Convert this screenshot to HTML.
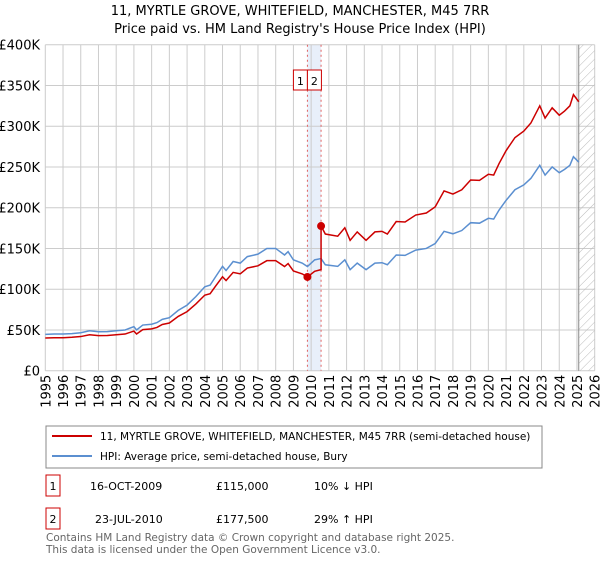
<!DOCTYPE html>
<html><head><meta charset="utf-8"><style>
body{margin:0;background:#fff;font-family:"Liberation Sans","DejaVu Sans",sans-serif;}
svg text{font-family:"DejaVu Sans","Liberation Sans",sans-serif;}
</style></head><body>
<svg id="chart" width="600" height="560" viewBox="0 0 600 560" xmlns="http://www.w3.org/2000/svg">
<defs><pattern id="hatch" width="6" height="6" patternUnits="userSpaceOnUse" patternTransform="rotate(45)"><line x1="0" y1="0" x2="0" y2="6" stroke="#bbb" stroke-width="1"/></pattern></defs>
<text x="300" y="15" text-anchor="middle" font-size="13">11, MYRTLE GROVE, WHITEFIELD, MANCHESTER, M45 7RR</text>
<text x="300" y="33" text-anchor="middle" font-size="13">Price paid vs. HM Land Registry's House Price Index (HPI)</text>
<g id="grid"></g><g id="marks"></g><g id="axes"></g>
<rect x="46" y="426" width="496" height="42" fill="#fff" stroke="#888"/>
<line x1="52" y1="436" x2="92" y2="436" stroke="#cc0000" stroke-width="2"/>
<text x="100" y="440" font-size="10.5">11, MYRTLE GROVE, WHITEFIELD, MANCHESTER, M45 7RR (semi-detached house)</text>
<line x1="52" y1="456" x2="92" y2="456" stroke="#5b8fd0" stroke-width="2"/>
<text x="100" y="460" font-size="10.5">HPI: Average price, semi-detached house, Bury</text>
<g font-size="11">
<rect x="46" y="475" width="14" height="21" fill="#fff" stroke="#cc0000"/><text x="53" y="490" text-anchor="middle">1</text>
<text x="90" y="490">16-OCT-2009</text><text x="216" y="490">£115,000</text><text x="314" y="490">10% ↓ HPI</text></g>
<g font-size="11">
<rect x="46" y="508" width="14" height="21" fill="#fff" stroke="#cc0000"/><text x="53" y="523" text-anchor="middle">2</text>
<text x="95" y="523">23-JUL-2010</text><text x="216" y="523">£177,500</text><text x="314" y="523">29% ↑ HPI</text></g>
<text x="46" y="541" font-size="10.5" fill="#666">Contains HM Land Registry data © Crown copyright and database right 2025.</text>
<text x="46" y="553" font-size="10.5" fill="#666">This data is licensed under the Open Government Licence v3.0.</text>
</svg>
<script>
const hpiDates=[1995.0,1995.5,1996.0,1996.5,1997.0,1997.5,1998.0,1998.5,1999.0,1999.5,2000.0,2000.15,2000.5,2001.0,2001.3,2001.6,2002.0,2002.5,2003.0,2003.5,2004.0,2004.3,2004.6,2005.0,2005.2,2005.6,2006.0,2006.4,2007.0,2007.5,2008.0,2008.5,2008.7,2009.0,2009.5,2009.79,2010.2,2010.56,2010.8,2011.5,2011.9,2012.2,2012.6,2013.1,2013.6,2014.0,2014.3,2014.8,2015.3,2015.9,2016.5,2017.0,2017.5,2018.0,2018.5,2019.0,2019.5,2020.0,2020.3,2020.6,2021.0,2021.5,2022.0,2022.4,2022.9,2023.2,2023.6,2024.0,2024.3,2024.6,2024.8,2025.1];
const hpiValues=[44.6,45,45,45.5,46.6,49,47.8,48,49,50,54,50,56,57,59,63,65,74,80.5,91,103,105,115,128,123,134,132,140,143,150,150,142,146,136,132,127.8,136,137.6,130,128,136,124,132,124,132,132.5,130,142,141.5,148,150,156,171,168,172,181.6,181,187,186,197,209,222,228,236,252,240,250,243,247,252,262.6,256];
const priceDates=[1995.0,1995.5,1996.0,1996.5,1997.0,1997.5,1998.0,1998.5,1999.0,1999.5,2000.0,2000.15,2000.5,2001.0,2001.3,2001.6,2002.0,2002.5,2003.0,2003.5,2004.0,2004.3,2004.6,2005.0,2005.2,2005.6,2006.0,2006.4,2007.0,2007.5,2008.0,2008.5,2008.7,2009.0,2009.5,2009.79,2010.2,2010.56,2010.56,2010.8,2011.5,2011.9,2012.2,2012.6,2013.1,2013.6,2014.0,2014.3,2014.8,2015.3,2015.9,2016.5,2017.0,2017.5,2018.0,2018.5,2019.0,2019.5,2020.0,2020.3,2020.6,2021.0,2021.5,2022.0,2022.4,2022.9,2023.2,2023.6,2024.0,2024.3,2024.6,2024.8,2025.1];
const priceValues=[40.1,40.5,40.5,41,41.9,44.1,43,43.2,44.1,45,48.6,45,50.4,51.3,53.1,56.7,58.5,66.6,72.5,81.9,92.7,94.5,103.5,115.2,110.7,120.6,118.8,126,128.7,135,135,127.8,131.4,122.4,118.8,115,122,124,177.5,167.7,165,175.4,160,170.3,160,170.3,171,167.7,183,182.5,191,193.5,201,220.6,216.7,222,234,233.5,241,240,254,270,286,294,304,325,310,322.5,313.5,318.6,325,338.7,330];
const saleDates=[2009.79,2010.56];
const saleValues=[115,177.5];
const saleLabels=["1","2"];
const yTicks=[0,50,100,150,200,250,300,350,400];
const yTickLabels=["£0","£50K","£100K","£150K","£200K","£250K","£300K","£350K","£400K"];
const xYears=[1995,1996,1997,1998,1999,2000,2001,2002,2003,2004,2005,2006,2007,2008,2009,2010,2011,2012,2013,2014,2015,2016,2017,2018,2019,2020,2021,2022,2023,2024,2025,2026];
const forecastStart=2025.1;

const NS="http://www.w3.org/2000/svg";
const X0=45.3,X1=594.7,Y0=370.7,Y1=44.7;
const x=t=>X0+(t-1995)/(2026-1995)*(X1-X0);
const y=v=>Y0-v/400*(Y0-Y1);
function mk(tag,attrs,parent){const e=document.createElementNS(NS,tag);for(const k in attrs)e.setAttribute(k,attrs[k]);parent.appendChild(e);return e;}
const grid=document.getElementById('grid'),marks=document.getElementById('marks'),axes=document.getElementById('axes');
let sh=mk('rect',{x:x(saleDates[0]),y:Y1,width:x(saleDates[1])-x(saleDates[0]),height:Y0-Y1,fill:'#e8effa'},grid);


yTicks.forEach((v,i)=>{
 let l=mk('line',{x1:X0,x2:X1,y1:y(v),y2:y(v),stroke:'#ccc','stroke-width':1},grid);
 
 
 let t=mk('text',{x:40,y:y(v)+5,'text-anchor':'end','font-size':13},axes);t.textContent=yTickLabels[i];
 
 
});
xYears.forEach(yr=>{
 let l=mk('line',{x1:x(yr),x2:x(yr),y1:Y1,y2:Y0,stroke:'#ccc','stroke-width':1},grid);
 
 
 let t=mk('text',{x:0,y:0,'text-anchor':'end','font-size':13,transform:`translate(${x(yr)+5},${Y0+4}) rotate(-90)`},axes);t.textContent=yr;
 
 
});
let hz=mk('rect',{x:x(forecastStart),y:Y1,width:X1-x(forecastStart),height:Y0-Y1,fill:'url(#hatch)'},grid);


let fl=mk('line',{x1:x(forecastStart),x2:x(forecastStart),y1:Y1,y2:Y0,stroke:'#888','stroke-width':1},grid);


saleDates.forEach((d,i)=>{
 let l=mk('line',{x1:x(d),x2:x(d),y1:Y1,y2:Y0,stroke:'#e06060','stroke-width':1,'stroke-dasharray':'2,3'},grid);
 
 
});
let hp=mk('polyline',{points:hpiDates.map((d,i)=>x(d)+','+y(hpiValues[i])).join(' '),fill:'none',stroke:'#5b8fd0','stroke-width':1.5},marks);


let pp=mk('polyline',{points:priceDates.map((d,i)=>x(d)+','+y(priceValues[i])).join(' '),fill:'none',stroke:'#cc0000','stroke-width':1.5},marks);


saleDates.forEach((d,i)=>{
 let c=mk('circle',{cx:x(d),cy:y(saleValues[i]),r:4,fill:'#cc0000'},marks);
 
 
 const bx=i===0?x(d)-14:x(saleDates[0]);
 let r=mk('rect',{x:bx,y:70,width:14,height:20,fill:'#fff',stroke:'#cc0000'},marks);
 
 
 let t=mk('text',{x:bx+7,y:85,'text-anchor':'middle','font-size':11},marks);t.textContent=saleLabels[i];
 
 
});
</script>
</body></html>
